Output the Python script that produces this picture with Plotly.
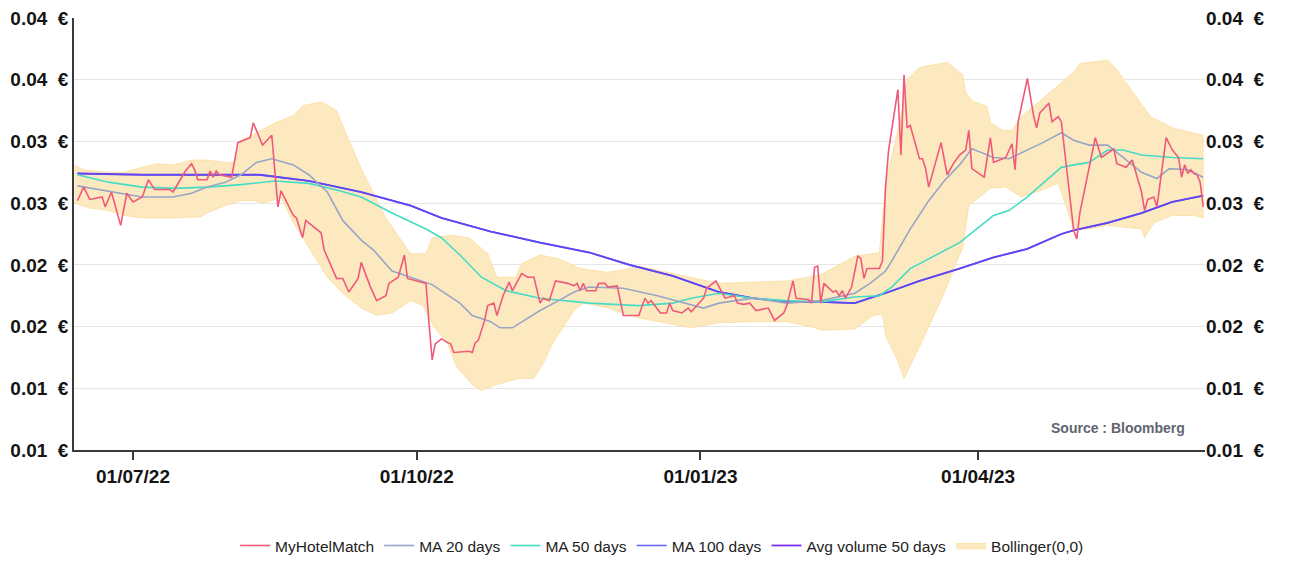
import plotly.graph_objects as go

# ---------------- data ----------------
price_dates = [
    "2022-06-13", "2022-06-15", "2022-06-17", "2022-06-21", "2022-06-22", "2022-06-24", "2022-06-27", "2022-06-29",
    "2022-07-01", "2022-07-04", "2022-07-06", "2022-07-08", "2022-07-13", "2022-07-14", "2022-07-18", "2022-07-20",
    "2022-07-21", "2022-07-22", "2022-07-25", "2022-07-26", "2022-07-27", "2022-07-28", "2022-07-29", "2022-08-02",
    "2022-08-04", "2022-08-08", "2022-08-09", "2022-08-12", "2022-08-15", "2022-08-17", "2022-08-18", "2022-08-22",
    "2022-08-23", "2022-08-25", "2022-08-26", "2022-08-31", "2022-09-01", "2022-09-05", "2022-09-07", "2022-09-09",
    "2022-09-12", "2022-09-13", "2022-09-16", "2022-09-18", "2022-09-21", "2022-09-22", "2022-09-25", "2022-09-27",
    "2022-09-28", "2022-10-04", "2022-10-05", "2022-10-06", "2022-10-07", "2022-10-09", "2022-10-11", "2022-10-12",
    "2022-10-13", "2022-10-18", "2022-10-19", "2022-10-20", "2022-10-21", "2022-10-23", "2022-10-24", "2022-10-26",
    "2022-10-27", "2022-10-29", "2022-10-31", "2022-11-01", "2022-11-04", "2022-11-06", "2022-11-08", "2022-11-10",
    "2022-11-11", "2022-11-13", "2022-11-15", "2022-11-19", "2022-11-21", "2022-11-22", "2022-11-23", "2022-11-24",
    "2022-11-25", "2022-11-28", "2022-11-29", "2022-12-01", "2022-12-02", "2022-12-05", "2022-12-07", "2022-12-12",
    "2022-12-14", "2022-12-15", "2022-12-16", "2022-12-19", "2022-12-21", "2022-12-22", "2022-12-23", "2022-12-26",
    "2022-12-28", "2022-12-29", "2023-01-02", "2023-01-03", "2023-01-06", "2023-01-09", "2023-01-12", "2023-01-13",
    "2023-01-15", "2023-01-17", "2023-01-19", "2023-01-23", "2023-01-25", "2023-01-28", "2023-01-29", "2023-01-31",
    "2023-02-01", "2023-02-05", "2023-02-06", "2023-02-07", "2023-02-08", "2023-02-09", "2023-02-10", "2023-02-13",
    "2023-02-14", "2023-02-15", "2023-02-16", "2023-02-17", "2023-02-19", "2023-02-21", "2023-02-22", "2023-02-23",
    "2023-02-24", "2023-02-28", "2023-03-01", "2023-03-02", "2023-03-03", "2023-03-06", "2023-03-07", "2023-03-08",
    "2023-03-09", "2023-03-10", "2023-03-13", "2023-03-14", "2023-03-15", "2023-03-16", "2023-03-20", "2023-03-22",
    "2023-03-24", "2023-03-26", "2023-03-28", "2023-03-29", "2023-03-30", "2023-04-03", "2023-04-05", "2023-04-06",
    "2023-04-09", "2023-04-10", "2023-04-12", "2023-04-13", "2023-04-14", "2023-04-17", "2023-04-19", "2023-04-20",
    "2023-04-21", "2023-04-24", "2023-04-25", "2023-04-27", "2023-04-28", "2023-05-02", "2023-05-03", "2023-05-04",
    "2023-05-09", "2023-05-11", "2023-05-15", "2023-05-16", "2023-05-19", "2023-05-21", "2023-05-24", "2023-05-25",
    "2023-05-26", "2023-05-28", "2023-05-29", "2023-06-01", "2023-06-03", "2023-06-05", "2023-06-06", "2023-06-07",
    "2023-06-08", "2023-06-09", "2023-06-10", "2023-06-11", "2023-06-12", "2023-06-13",
]
price_values = [
    0.0252, 0.0263, 0.0253, 0.0255, 0.0247, 0.0259, 0.0232, 0.0258,
    0.0251, 0.0255, 0.0269, 0.0261, 0.0261, 0.0259, 0.0276, 0.0282,
    0.0277, 0.0269, 0.0269, 0.0276, 0.0271, 0.0276, 0.0273, 0.0271,
    0.0299, 0.0303, 0.0315, 0.0297, 0.0305, 0.0247, 0.0260, 0.0240,
    0.0238, 0.0222, 0.0236, 0.0226, 0.0212, 0.0189, 0.0189, 0.0178,
    0.0189, 0.0202, 0.0182, 0.0171, 0.0175, 0.0185, 0.0190, 0.0208,
    0.0189, 0.0185, 0.0152, 0.0123, 0.0136, 0.0140, 0.0137, 0.0136,
    0.0129, 0.0130, 0.0129, 0.0137, 0.0139, 0.0155, 0.0167, 0.0169,
    0.0159, 0.0175, 0.0186, 0.0179, 0.0193, 0.0190, 0.0190, 0.0169,
    0.0173, 0.0171, 0.0187, 0.0185, 0.0183, 0.0185, 0.0179, 0.0185,
    0.0179, 0.0179, 0.0185, 0.0185, 0.0182, 0.0183, 0.0159, 0.0159,
    0.0173, 0.0169, 0.0171, 0.0161, 0.0161, 0.0169, 0.0163, 0.0161,
    0.0165, 0.0162, 0.0173, 0.0181, 0.0187, 0.0173, 0.0175, 0.0169,
    0.0168, 0.0169, 0.0163, 0.0165, 0.0155, 0.0161, 0.0167, 0.0187,
    0.0173, 0.0172, 0.0169, 0.0198, 0.0199, 0.0169, 0.0185, 0.0178,
    0.0179, 0.0175, 0.0179, 0.0173, 0.0182, 0.0207, 0.0205, 0.0189,
    0.0197, 0.0197, 0.0203, 0.0263, 0.0293, 0.0342, 0.0289, 0.0354,
    0.0311, 0.0313, 0.0286, 0.0286, 0.0278, 0.0263, 0.0299, 0.0273,
    0.0282, 0.0289, 0.0293, 0.0309, 0.0278, 0.0271, 0.0303, 0.0283,
    0.0286, 0.0287, 0.0298, 0.0277, 0.0316, 0.0351, 0.0321, 0.0311,
    0.0323, 0.0331, 0.0316, 0.0320, 0.0316, 0.0228, 0.0221, 0.0242,
    0.0303, 0.0287, 0.0294, 0.0282, 0.0279, 0.0285, 0.0259, 0.0244,
    0.0253, 0.0255, 0.0247, 0.0303, 0.0293, 0.0287, 0.0271, 0.0281,
    0.0274, 0.0277, 0.0274, 0.0273, 0.0267, 0.0247,
]

ma20_dates = [
    "2022-06-13", "2022-06-23", "2022-07-04", "2022-07-14", "2022-07-20", "2022-07-25", "2022-07-31", "2022-08-05",
    "2022-08-10", "2022-08-15", "2022-08-22", "2022-08-27", "2022-09-02", "2022-09-07", "2022-09-13", "2022-09-17",
    "2022-09-23", "2022-09-29", "2022-10-06", "2022-10-15", "2022-10-19", "2022-10-25", "2022-10-28", "2022-11-01",
    "2022-11-10", "2022-11-16", "2022-11-21", "2022-11-26", "2022-12-07", "2022-12-18", "2022-12-29", "2023-01-02",
    "2023-01-07", "2023-01-18", "2023-01-29", "2023-02-09", "2023-02-20", "2023-02-25", "2023-03-02", "2023-03-04",
    "2023-03-10", "2023-03-16", "2023-03-21", "2023-03-26", "2023-03-30", "2023-04-06", "2023-04-11", "2023-04-17",
    "2023-04-22", "2023-04-28", "2023-05-02", "2023-05-07", "2023-05-13", "2023-05-18", "2023-05-24", "2023-05-29",
    "2023-06-02", "2023-06-08", "2023-06-13",
]
ma20_values = [
    0.0264, 0.0260, 0.0255, 0.0255, 0.0258, 0.0263, 0.0267, 0.0273,
    0.0283, 0.0286, 0.0281, 0.0273, 0.0259, 0.0236, 0.0220, 0.0212,
    0.0195, 0.0190, 0.0184, 0.0169, 0.0159, 0.0154, 0.0149, 0.0149,
    0.0163, 0.0171, 0.0178, 0.0182, 0.0181, 0.0175, 0.0168, 0.0165,
    0.0169, 0.0173, 0.0169, 0.0171, 0.0177, 0.0185, 0.0195, 0.0203,
    0.0229, 0.0252, 0.0268, 0.0281, 0.0294, 0.0287, 0.0286, 0.0293,
    0.0299, 0.0307, 0.0301, 0.0297, 0.0297, 0.0287, 0.0275, 0.0270,
    0.0278, 0.0277, 0.0271,
]

ma50_dates = [
    "2022-06-13", "2022-06-23", "2022-07-04", "2022-07-14", "2022-07-25", "2022-08-05", "2022-08-16", "2022-08-27",
    "2022-09-06", "2022-09-13", "2022-09-23", "2022-10-04", "2022-10-09", "2022-10-15", "2022-10-22", "2022-10-30",
    "2022-11-10", "2022-11-26", "2022-12-12", "2022-12-23", "2022-12-29", "2023-01-07", "2023-01-18", "2023-01-29",
    "2023-02-09", "2023-02-20", "2023-02-28", "2023-03-04", "2023-03-10", "2023-03-16", "2023-03-26", "2023-04-01",
    "2023-04-06", "2023-04-11", "2023-04-17", "2023-04-22", "2023-04-28", "2023-05-02", "2023-05-07", "2023-05-13",
    "2023-05-18", "2023-05-24", "2023-06-03", "2023-06-13",
]
ma50_values = [
    0.0273, 0.0267, 0.0263, 0.0262, 0.0263, 0.0265, 0.0268, 0.0266,
    0.0260, 0.0255, 0.0242, 0.0229, 0.0222, 0.0208, 0.0190, 0.0179,
    0.0173, 0.0169, 0.0167, 0.0169, 0.0173, 0.0177, 0.0173, 0.0171,
    0.0170, 0.0174, 0.0175, 0.0182, 0.0197, 0.0205, 0.0218, 0.0230,
    0.0240, 0.0244, 0.0255, 0.0266, 0.0279, 0.0281, 0.0283, 0.0293,
    0.0293, 0.0289, 0.0287, 0.0286,
]

ma100_dates = [
    "2022-06-13", "2022-07-04", "2022-07-25", "2022-08-11", "2022-08-27", "2022-09-13", "2022-09-29", "2022-10-09",
    "2022-10-25", "2022-11-10", "2022-11-26", "2022-12-09", "2022-12-23", "2023-01-07", "2023-01-18", "2023-01-29",
    "2023-02-09", "2023-02-20", "2023-03-03", "2023-03-13", "2023-03-26", "2023-04-06", "2023-04-17", "2023-04-28",
    "2023-05-02", "2023-05-13", "2023-05-24", "2023-06-03", "2023-06-13",
]
ma100_values = [
    0.0274, 0.0273, 0.0273, 0.0273, 0.0268, 0.0259, 0.0248, 0.0238,
    0.0227, 0.0218, 0.0210, 0.0200, 0.0191, 0.0178, 0.0173, 0.0170,
    0.0170, 0.0169, 0.0178, 0.0187, 0.0197, 0.0206, 0.0213, 0.0225,
    0.0228, 0.0234, 0.0242, 0.0251, 0.0256,
]

# the "Avg volume 50 days" line runs along MA 100 in the reference
avg_vol_dates = list(ma100_dates)
avg_vol_values = [
    0.0274, 0.0273, 0.0273, 0.0273, 0.0268, 0.0259, 0.0248, 0.0238,
    0.0227, 0.0218, 0.0210, 0.0200, 0.0191, 0.0178, 0.0173, 0.0170,
    0.0170, 0.0169, 0.0178, 0.0187, 0.0197, 0.0206, 0.0213, 0.0225,
    0.0228, 0.0234, 0.0242, 0.0251, 0.0256,
]

bb_upper_dates = [
    "2022-06-12", "2022-06-15", "2022-06-23", "2022-06-28", "2022-07-04", "2022-07-09", "2022-07-14", "2022-07-20",
    "2022-07-25", "2022-07-31", "2022-08-03", "2022-08-05", "2022-08-10", "2022-08-16", "2022-08-22", "2022-08-25",
    "2022-08-31", "2022-09-05", "2022-09-09", "2022-09-13", "2022-09-21", "2022-09-29", "2022-10-04", "2022-10-06",
    "2022-10-12", "2022-10-18", "2022-10-24", "2022-10-27", "2022-11-02", "2022-11-04", "2022-11-10", "2022-11-16",
    "2022-11-23", "2022-12-02", "2022-12-07", "2022-12-12", "2022-12-23", "2022-12-29", "2023-01-07", "2023-01-18",
    "2023-01-29", "2023-02-09", "2023-02-20", "2023-02-28", "2023-03-02", "2023-03-07", "2023-03-09", "2023-03-13",
    "2023-03-22", "2023-03-27", "2023-03-28", "2023-03-30", "2023-04-04", "2023-04-05", "2023-04-09", "2023-04-12",
    "2023-04-15", "2023-04-23", "2023-05-02", "2023-05-04", "2023-05-13", "2023-05-16", "2023-05-20", "2023-05-27",
    "2023-06-03", "2023-06-13",
]
bb_upper = [
    0.0281, 0.0277, 0.0275, 0.0275, 0.0279, 0.0282, 0.0281, 0.0285,
    0.0285, 0.0283, 0.0283, 0.0301, 0.0307, 0.0315, 0.0321, 0.0329,
    0.0332, 0.0325, 0.0301, 0.0278, 0.0238, 0.0209, 0.0209, 0.0222,
    0.0224, 0.0222, 0.0209, 0.0190, 0.0190, 0.0201, 0.0208, 0.0205,
    0.0197, 0.0194, 0.0196, 0.0199, 0.0193, 0.0190, 0.0185, 0.0186,
    0.0187, 0.0192, 0.0207, 0.0210, 0.0266, 0.0320, 0.0350, 0.0360,
    0.0364, 0.0354, 0.0340, 0.0333, 0.0328, 0.0315, 0.0309, 0.0309,
    0.0320, 0.0337, 0.0356, 0.0363, 0.0366, 0.0358, 0.0344, 0.0320,
    0.0311, 0.0305,
]

bb_lower_dates = [
    "2022-06-12", "2022-06-17", "2022-06-23", "2022-06-28", "2022-07-04", "2022-07-14", "2022-07-23", "2022-07-25",
    "2022-07-31", "2022-08-05", "2022-08-09", "2022-08-12", "2022-08-15", "2022-08-18", "2022-08-22", "2022-08-27",
    "2022-09-02", "2022-09-07", "2022-09-13", "2022-09-18", "2022-09-23", "2022-09-29", "2022-10-03", "2022-10-06",
    "2022-10-11", "2022-10-14", "2022-10-19", "2022-10-22", "2022-10-27", "2022-11-03", "2022-11-08", "2022-11-11",
    "2022-11-14", "2022-11-19", "2022-11-21", "2022-11-24", "2022-12-02", "2022-12-12", "2022-12-23", "2022-12-29",
    "2023-01-07", "2023-01-18", "2023-01-29", "2023-02-07", "2023-02-09", "2023-02-20", "2023-02-26", "2023-03-01",
    "2023-03-02", "2023-03-06", "2023-03-08", "2023-03-14", "2023-03-21", "2023-03-26", "2023-03-27", "2023-03-29",
    "2023-04-05", "2023-04-10", "2023-04-15", "2023-04-21", "2023-04-27", "2023-05-02", "2023-05-07", "2023-05-13",
    "2023-05-24", "2023-05-25", "2023-05-28", "2023-06-03", "2023-06-10", "2023-06-13",
]
bb_lower = [
    0.0250, 0.0246, 0.0244, 0.0240, 0.0238, 0.0238, 0.0239, 0.0242,
    0.0248, 0.0252, 0.0252, 0.0250, 0.0252, 0.0255, 0.0234, 0.0214,
    0.0190, 0.0177, 0.0165, 0.0159, 0.0161, 0.0171, 0.0167, 0.0152,
    0.0136, 0.0117, 0.0103, 0.0098, 0.0103, 0.0108, 0.0108, 0.0120,
    0.0136, 0.0155, 0.0163, 0.0169, 0.0165, 0.0157, 0.0152, 0.0149,
    0.0153, 0.0154, 0.0154, 0.0149, 0.0147, 0.0148, 0.0159, 0.0160,
    0.0143, 0.0122, 0.0108, 0.0139, 0.0177, 0.0208, 0.0213, 0.0248,
    0.0262, 0.0263, 0.0255, 0.0260, 0.0266, 0.0229, 0.0229, 0.0232,
    0.0229, 0.0222, 0.0234, 0.0240, 0.0240, 0.0238,
]

y_tick_values = [0.005, 0.010, 0.015, 0.020, 0.025, 0.030, 0.035, 0.040]
y_tick_labels = ["0.01\u00a0\u00a0€", "0.01\u00a0\u00a0€", "0.02\u00a0\u00a0€", "0.02\u00a0\u00a0€",
                 "0.03\u00a0\u00a0€", "0.03\u00a0\u00a0€", "0.04\u00a0\u00a0€", "0.04\u00a0\u00a0€"]
x_tick_values = ["2022-07-01", "2022-10-01", "2023-01-01", "2023-04-01"]
x_tick_labels = ["01/07/22", "01/10/22", "01/01/23", "01/04/23"]

# ---------------- figure ----------------
fig = go.Figure()

band_x = bb_upper_dates + bb_lower_dates[::-1]
band_y = bb_upper + bb_lower[::-1]
fig.add_trace(go.Scatter(
    x=band_x, y=band_y, mode="lines", fill="toself", fillcolor="#fde9c0",
    line=dict(color="rgba(251,212,130,0.55)", width=1), name="Bollinger(0,0)",
    legendrank=6, hoverinfo="skip"))

fig.add_trace(go.Scatter(x=avg_vol_dates, y=avg_vol_values, mode="lines", name="Avg volume 50 days",
                         line=dict(color="#7b30ee", width=1.8), legendrank=5))
fig.add_trace(go.Scatter(x=ma100_dates, y=ma100_values, mode="lines", name="MA 100 days",
                         line=dict(color="rgba(80,80,245,0.85)", width=1.6), legendrank=4))
fig.add_trace(go.Scatter(x=ma50_dates, y=ma50_values, mode="lines", name="MA 50 days",
                         line=dict(color="#45dcc4", width=1.6), legendrank=3))
fig.add_trace(go.Scatter(x=ma20_dates, y=ma20_values, mode="lines", name="MA 20 days",
                         line=dict(color="#98a6c6", width=1.6), legendrank=2))
fig.add_trace(go.Scatter(x=price_dates, y=price_values, mode="lines", name="MyHotelMatch",
                         line=dict(color="#ef5a7a", width=1.6), legendrank=1))

# invisible trace to activate the right-hand axis
fig.add_trace(go.Scatter(x=[price_dates[0]], y=[price_values[0]], yaxis="y2", mode="markers",
                         marker=dict(opacity=0), showlegend=False, hoverinfo="skip"))

tick_font = dict(family="Liberation Sans, Arial, sans-serif", size=19, color="#141414")

fig.update_layout(
    width=1289, height=561,
    margin=dict(l=74, r=84, t=18, b=111, autoexpand=False),
    paper_bgcolor="white", plot_bgcolor="white",
    font=dict(family="Liberation Sans, Arial, sans-serif"),
    xaxis=dict(
        type="date", range=["2022-06-11 21:00", "2023-06-13 14:00"],
        tickvals=x_tick_values, ticktext=[f"<b>{t}</b>" for t in x_tick_labels], tickfont=tick_font,
        showgrid=False, showline=True, linecolor="#3a3a3a", linewidth=1.5,
        ticks="outside", ticklen=8, tickwidth=1.5, tickcolor="#3a3a3a", zeroline=False,
        automargin=False,
    ),
    yaxis=dict(
        range=[0.005, 0.040], tickvals=y_tick_values, ticktext=[f"<b>{t}</b>" for t in y_tick_labels],
        tickfont=tick_font, showgrid=True, gridcolor="#e6e6e6", gridwidth=1,
        showline=True, linecolor="#3a3a3a", linewidth=1.5, zeroline=False, ticks="",
        automargin=False,
    ),
    yaxis2=dict(
        range=[0.005, 0.040], tickvals=y_tick_values, ticktext=[f"<b>{t}</b>" for t in y_tick_labels],
        tickfont=tick_font, overlaying="y", side="right", showgrid=False, showline=False,
        zeroline=False, ticks="", automargin=False,
    ),
    legend=dict(
        orientation="h", x=0.52, xanchor="center", y=-0.222, yanchor="middle",
        font=dict(family="Liberation Sans, Arial, sans-serif", size=15.5, color="#222222"),
        bgcolor="rgba(0,0,0,0)", traceorder="normal",
    ),
    showlegend=True,
    annotations=[dict(
        text="<b>Source : Bloomberg</b>", x=0.984, y=0.051, xref="paper", yref="paper",
        xanchor="right", yanchor="middle", showarrow=False,
        font=dict(family="Liberation Sans, Arial, sans-serif", size=14, color="#5f6470"),
    )],
)

# remove the default 8px page margin so the figure fills the window exactly
fig.write_html(
    "out.html",
    config={"displayModeBar": False},
    post_script="document.body.style.margin='0';document.body.style.overflow='hidden';",
)
